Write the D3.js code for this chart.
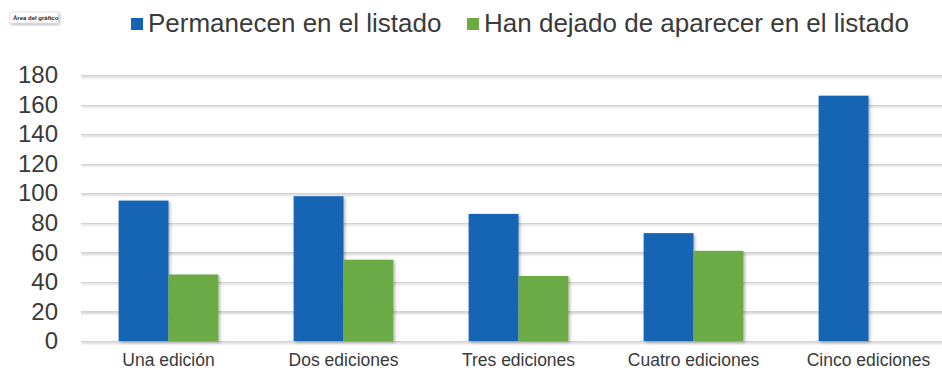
<!DOCTYPE html>
<html><head><meta charset="utf-8">
<script src="https://cdn.jsdelivr.net/npm/d3@7"></script>
<style>
html,body{margin:0;padding:0;background:#fff;overflow:hidden}
svg{display:block;font-family:"Liberation Sans",Arial,sans-serif}
</style></head>
<body><svg id="c" width="942" height="374"></svg>
<script>
const categories = ["Una edición","Dos ediciones","Tres ediciones","Cuatro ediciones","Cinco ediciones"];
const seriesNames = ["Permanecen en el listado","Han dejado de aparecer en el listado"];
const permanecen = [95, 98, 86, 73, 166];
const hanDejado = [45, 55, 44, 61, 0];
const yTicks = [0,20,40,60,80,100,120,140,160,180];
const colors = ["#1565b5","#6aab44"];

const svg = d3.select("#c");
const defs = svg.append("defs");
const f = defs.append("filter").attr("id","sh").attr("x","-20%").attr("y","-20%").attr("width","140%").attr("height","140%");
f.append("feDropShadow").attr("dx",1.5).attr("dy",1.5).attr("stdDeviation",1.5).attr("flood-color","#000").attr("flood-opacity",0.3);
const f2 = defs.append("filter").attr("id","shl").attr("filterUnits","userSpaceOnUse")
  .attr("x",0).attr("y",0).attr("width",1000).attr("height",400);
f2.append("feDropShadow").attr("dx",0).attr("dy",1).attr("stdDeviation",0.8).attr("flood-color","#000").attr("flood-opacity",0.2);

const x0 = d3.scaleBand().domain(categories).range([81, 956]).paddingInner(0.43).paddingOuter(0.215);
const x1 = d3.scaleBand().domain([0,1]).range([0, x0.bandwidth()]);
const y = d3.scaleLinear().domain([0,180]).range([341, 75]);

// gridlines
const gAxis = svg.append("g").attr("transform","translate(81,0)")
  .call(d3.axisLeft(y).tickValues(yTicks).tickSize(-875).tickFormat(d3.format("d")).tickPadding(23));
gAxis.select(".domain").remove();
gAxis.selectAll(".tick line").attr("stroke","#d2d2d2").attr("stroke-width",1.8).attr("filter","url(#shl)");
gAxis.selectAll(".tick text").attr("fill","#3a3a3a").attr("font-size","24px").attr("font-family","Liberation Sans, Arial, sans-serif");

// bars
const data = categories.map((c,i)=>({c, v:[permanecen[i], hanDejado[i]]}));
const groups = svg.append("g").selectAll("g").data(data).join("g")
  .attr("transform", d=>`translate(${x0(d.c)},0)`);
groups.selectAll("rect").data(d=>d.v.map((v,k)=>({v,k}))).join("rect")
  .filter(d=>d.v>0)
  .attr("x", d=>x1(d.k)).attr("width", x1.bandwidth())
  .attr("y", d=>y(d.v)).attr("height", d=>y(0)-y(d.v))
  .attr("fill", d=>colors[d.k]).attr("filter","url(#sh)");

// x axis labels
const xa = svg.append("g").attr("transform","translate(0,341)")
  .call(d3.axisBottom(x0).tickSize(0).tickPadding(13));
xa.select(".domain").remove();
xa.selectAll(".tick text").attr("fill","#3a3a3a").attr("font-size","17.5px").attr("font-family","Liberation Sans, Arial, sans-serif");

// legend
const legX = [131, 467];
const leg = svg.append("g").selectAll("g").data(seriesNames).join("g")
  .attr("transform",(d,i)=>`translate(${legX[i]},18)`);
leg.append("rect").attr("width",12).attr("height",12).attr("fill",(d,i)=>colors[i]);
leg.append("text").attr("x",17).attr("y",14).attr("font-size","26px").attr("fill","#3a3a3a").text(d=>d);

// "Área del gráfico" tooltip
const tip = svg.append("g").attr("transform","translate(10,12)");
tip.append("rect").attr("width",48).attr("height",11).attr("fill","#fff").attr("stroke","#ccc").attr("stroke-width",0.5).attr("filter","url(#sh)");
tip.append("text").attr("x",3).attr("y",8).attr("font-size","6px").attr("font-weight","bold").attr("fill","#222").text("Área del gráfico");
</script></body></html>
